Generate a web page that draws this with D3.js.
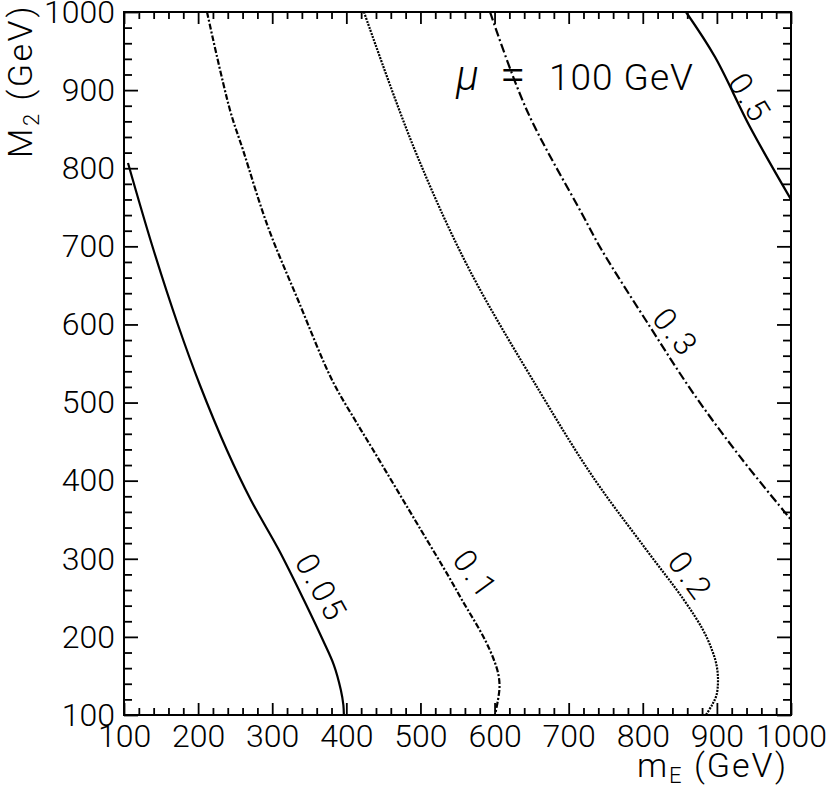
<!DOCTYPE html>
<html>
<head>
<meta charset="utf-8">
<script src="https://cdn.jsdelivr.net/npm/d3@7"></script>
<style>
  html, body { margin: 0; padding: 0; background: #fff; }
  svg { display: block; }
  text { font-family: "Roboto", "Liberation Sans", Arial, sans-serif; font-weight: 300; fill: #000; }
</style>
</head>
<body>
<svg id="chart" width="830" height="792"></svg>
<script>
// ---------- data ----------
const xDomain = [100, 1000];
const yDomain = [100, 1000];
const xMajorTicks = [100, 200, 300, 400, 500, 600, 700, 800, 900, 1000];
const yMajorTicks = [100, 200, 300, 400, 500, 600, 700, 800, 900, 1000];
const minorStep = 20;

const contourLevels = ["0.05", "0.1", "0.2", "0.3", "0.5"];

// [m_E, M_2] pairs (GeV)
const contour005 = [[105.4, 806.7], [137.8, 701.7], [172.9, 599.3], [202.4, 522.5], [238.8, 439.3],
  [271.2, 375.3], [309.0, 311.2], [342.7, 247.2], [368.3, 196.0], [383.2, 164.0], [392.6, 132.0],
  [396.0, 112.8], [396.7, 100]];
const contour01 = [[212.0, 1000], [243.0, 874.5], [260.6, 823.3], [294.3, 724.7], [334.8, 631.3],
  [380.7, 528.9], [411.7, 477.6], [434.6, 441.8], [500.7, 336.8], [538.5, 276.7], [556.1, 247.2],
  [585.8, 198.6], [599.2, 170.4], [605.3, 151.2], [606.7, 135.8], [604.6, 119.2], [600.6, 100]];
const contour02 = [[423.8, 1000], [491.3, 825.9], [564.2, 673.5], [661.3, 513.5], [732.8, 404.7],
  [803.0, 313.8], [855.6, 247.2], [881.3, 208.8], [893.4, 183.2], [899.5, 164.0], [901.5, 144.8],
  [899.5, 125.6], [893.4, 112.8], [885.3, 100]];
const contour03 = [[593.9, 1000], [643.4, 874.5], [717.6, 742.3], [744.6, 695.3], [809.7, 597.1],
  [868.2, 511.9], [931.2, 430.7], [1000, 350]];
const contour05 = [[858.3, 1000], [897.5, 942.4], [944.7, 852.8], [1000, 760]];

// label anchor (m_E, M_2) and rotation (deg)
const labelX = [367, 575, 865, 845, 945];
const labelY = [263, 280, 278, 590, 890];
const labelAngle = [61, 54, 54, 51, 58];

const annotation = "100 GeV";

// ---------- layout ----------
const svg = d3.select("#chart");
const plot = { left: 124, top: 12, right: 791, bottom: 715 };

const x = d3.scaleLinear().domain(xDomain).range([plot.left, plot.right]);
const y = d3.scaleLinear().domain(yDomain).range([plot.bottom, plot.top]);

const minorX = d3.range(xDomain[0], xDomain[1] + 0.1, minorStep).filter(v => !xMajorTicks.includes(v));
const minorY = d3.range(yDomain[0], yDomain[1] + 0.1, minorStep).filter(v => !yMajorTicks.includes(v));

const curves = [contour005, contour01, contour02, contour03, contour05];
const styles = [
  { dash: null, width: 2.2 },
  { dash: "6 2 2 2", width: 2.2 },
  { dash: "2 1.2", width: 2.2 },
  { dash: "9 3 2 3", width: 2.2 },
  { dash: null, width: 2.3 }
];

svg.append("defs").append("clipPath").attr("id", "clip")
  .append("rect")
  .attr("x", plot.left).attr("y", plot.top)
  .attr("width", plot.right - plot.left).attr("height", plot.bottom - plot.top);

// ---------- axes ----------
function styleAxis(g) {
  g.select(".domain").remove();
  g.selectAll(".tick line").attr("stroke", "#000").attr("stroke-width", 1.8);
  g.selectAll("text").attr("font-family", null).attr("font-size", 32).attr("fill", "#000");
}

// bottom
svg.append("g").attr("transform", `translate(0,${plot.bottom})`)
  .call(d3.axisBottom(x).tickValues(xMajorTicks).tickSize(-12).tickPadding(9).tickFormat(d3.format("d")))
  .call(styleAxis);
svg.append("g").attr("transform", `translate(0,${plot.bottom})`)
  .call(d3.axisBottom(x).tickValues(minorX).tickSize(-7).tickFormat(""))
  .call(styleAxis);
// top
svg.append("g").attr("transform", `translate(0,${plot.top})`)
  .call(d3.axisTop(x).tickValues(xMajorTicks).tickSize(-12).tickFormat(""))
  .call(styleAxis);
svg.append("g").attr("transform", `translate(0,${plot.top})`)
  .call(d3.axisTop(x).tickValues(minorX).tickSize(-7).tickFormat(""))
  .call(styleAxis);
// left
svg.append("g").attr("transform", `translate(${plot.left},0)`)
  .call(d3.axisLeft(y).tickValues(yMajorTicks).tickSize(-14).tickPadding(9).tickFormat(d3.format("d")))
  .call(styleAxis);
svg.append("g").attr("transform", `translate(${plot.left},0)`)
  .call(d3.axisLeft(y).tickValues(minorY).tickSize(-8).tickFormat(""))
  .call(styleAxis);
// right
svg.append("g").attr("transform", `translate(${plot.right},0)`)
  .call(d3.axisRight(y).tickValues(yMajorTicks).tickSize(-14).tickFormat(""))
  .call(styleAxis);
svg.append("g").attr("transform", `translate(${plot.right},0)`)
  .call(d3.axisRight(y).tickValues(minorY).tickSize(-8).tickFormat(""))
  .call(styleAxis);

// frame
svg.append("rect")
  .attr("x", plot.left).attr("y", plot.top)
  .attr("width", plot.right - plot.left).attr("height", plot.bottom - plot.top)
  .attr("fill", "none").attr("stroke", "#000").attr("stroke-width", 2);

// ---------- contours ----------
const line = d3.line().x(d => x(d[0])).y(d => y(d[1])).curve(d3.curveCatmullRom.alpha(0.5));
const cg = svg.append("g").attr("clip-path", "url(#clip)");
curves.forEach((c, i) => {
  cg.append("path")
    .attr("d", line(c))
    .attr("fill", "none")
    .attr("stroke", "#000")
    .attr("stroke-width", styles[i].width)
    .attr("stroke-dasharray", styles[i].dash);
});

// contour labels
contourLevels.forEach((lab, i) => {
  svg.append("text")
    .attr("transform", `translate(${x(labelX[i])},${y(labelY[i])}) rotate(${labelAngle[i]})`)
    .attr("text-anchor", "middle")
    .attr("dy", "0.36em")
    .attr("font-size", 32)
    .style("letter-spacing", "3px")
    .text(lab);
});

// annotation mu = 100 GeV
const ann = svg.append("text").attr("y", 90).attr("font-size", 37);
ann.append("tspan").attr("x", 456).attr("font-style", "italic").attr("font-size", 42).text("μ");
ann.append("tspan").attr("x", 500).attr("font-size", 46).text("=");
ann.append("tspan").attr("x", 549).style("letter-spacing", "1px").text(annotation);

// axis titles
const xt = svg.append("text")
  .attr("x", 788).attr("y", 777)
  .attr("text-anchor", "end")
  .attr("font-size", 34)
  .style("letter-spacing", "2px");
xt.append("tspan").text("m");
xt.append("tspan").attr("font-size", 22).attr("dy", 6).text("E");
xt.append("tspan").attr("dy", -6).text(" (GeV)");

const yt = svg.append("text")
  .attr("transform", "translate(32,4) rotate(-90)")
  .attr("text-anchor", "end")
  .attr("font-size", 34)
  .style("letter-spacing", "2.5px");
yt.append("tspan").text("M");
yt.append("tspan").attr("font-size", 22).attr("dy", 7).text("2");
yt.append("tspan").attr("dy", -7).text(" (GeV)");
</script>
</body>
</html>
